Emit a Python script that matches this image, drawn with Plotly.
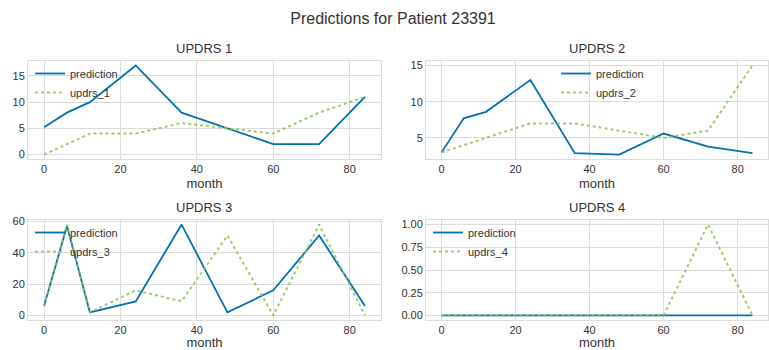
import plotly.graph_objects as go
from plotly.subplots import make_subplots

months = [0, 6, 12, 24, 36, 48, 60, 72, 84]

pred_1 = [5.2, 8, 10, 17, 8, 5, 2, 2, 11]
true_1 = [0, 2, 4, 4, 6, 5, 4, 8, 11]

pred_2 = [3.0, 7.7, 8.6, 13, 2.9, 2.7, 5.6, 3.8, 2.9]
true_2 = [3, 4, 5, 7, 7, 6, 5, 6, 15]

pred_3 = [6, 57, 2, 9, 58, 2, 16, 51, 6]
true_3 = [6, 58, 2, 16, 9, 51, 0, 58, 0]

pred_4 = [0, 0, 0, 0, 0, 0, 0, 0, 0]
true_4 = [0, 0, 0, 0, 0, 0, 0, 1, 0]

subplot_titles = ["UPDRS 1", "UPDRS 2", "UPDRS 3", "UPDRS 4"]
true_names = ["updrs_1", "updrs_2", "updrs_3", "updrs_4"]
title = "Predictions for Patient 23391"
x_ticks = [0, 20, 40, 60, 80]
y_ticks = [[0, 5, 10, 15], [5, 10, 15], [0, 20, 40, 60], [0, 0.25, 0.5, 0.75, 1.0]]

preds = [pred_1, pred_2, pred_3, pred_4]
trues = [true_1, true_2, true_3, true_4]

W, H = 769, 350
FONT = "Liberation Sans, Arial, sans-serif"
BLUE = "#0072B2"
GREEN = "rgba(140,195,90,0.85)"
GRID = "#dcdcdc"
TXT = "#333333"

# pixel layout of the four plot areas: (left, right, top, bottom)
boxes = [(28, 381, 61, 159), (426, 768, 61, 159), (28, 381, 220, 320), (426, 768, 220, 320)]
legend_pos = [(30, 59), (556, 59), (30, 218), (428, 218)]

fig = make_subplots(rows=2, cols=2)

def margin_range(vals, frac=0.05):
    lo, hi = min(vals), max(vals)
    d = (hi - lo) * frac
    return [lo - d, hi + d]

layout_updates = {}
for i in range(4):
    r, c = i // 2 + 1, i % 2 + 1
    lg = "legend" if i == 0 else f"legend{i+1}"
    fig.add_trace(go.Scatter(x=months, y=preds[i], mode="lines", name="prediction",
                             line=dict(color=BLUE, width=1.8), legend=lg), row=r, col=c)
    fig.add_trace(go.Scatter(x=months, y=trues[i], mode="lines", name=true_names[i],
                             line=dict(color=GREEN, width=2, dash="dot"), legend=lg), row=r, col=c)
    L, R, T, B = boxes[i]
    xa = "xaxis" if i == 0 else f"xaxis{i+1}"
    ya = "yaxis" if i == 0 else f"yaxis{i+1}"
    layout_updates[xa] = dict(domain=[L / W, R / W], range=margin_range(months),
                              tickvals=x_ticks, showgrid=True, gridcolor=GRID, gridwidth=1,
                              showline=True, linecolor=GRID, linewidth=1, mirror=True,
                              zeroline=False, ticks="", automargin=False,
                              tickfont=dict(size=11, color=TXT, family=FONT),
                              title=dict(text="month", font=dict(size=13, color=TXT, family=FONT), standoff=4))
    fmt = ".2f" if i == 3 else "d"
    yvals = preds[i] + trues[i]
    layout_updates[ya] = dict(domain=[1 - B / H, 1 - T / H], range=margin_range(yvals),
                              tickvals=y_ticks[i], tickformat=fmt, showgrid=True, gridcolor=GRID,
                              gridwidth=1, showline=True, linecolor=GRID, linewidth=1, mirror=True,
                              zeroline=False, ticks="", automargin=False,
                              tickfont=dict(size=11, color=TXT, family=FONT))
    fig.add_annotation(text=subplot_titles[i], x=(L + R) / 2 / W, y=1 - (T - 3) / H,
                       xref="paper", yref="paper", xanchor="center", yanchor="bottom",
                       showarrow=False, font=dict(size=13, color=TXT, family=FONT))
    lx, ly = legend_pos[i]
    layout_updates[lg] = dict(x=lx / W, y=1 - ly / H, xanchor="left", yanchor="top",
                              xref="paper", yref="paper",
                              bgcolor="rgba(0,0,0,0)", borderwidth=0, itemwidth=30,
                              tracegroupgap=0, font=dict(size=11, color=TXT, family=FONT))

fig.update_layout(**layout_updates)
fig.update_layout(
    width=W, height=H, margin=dict(l=0, r=0, t=0, b=0),
    paper_bgcolor="white", plot_bgcolor="white",
    title=dict(text=title, x=393 / W, xanchor="center", y=1 - 18 / H, yanchor="middle",
               font=dict(size=16, color=TXT, family=FONT)),
    showlegend=True,
)

fig.write_html("out.html")
